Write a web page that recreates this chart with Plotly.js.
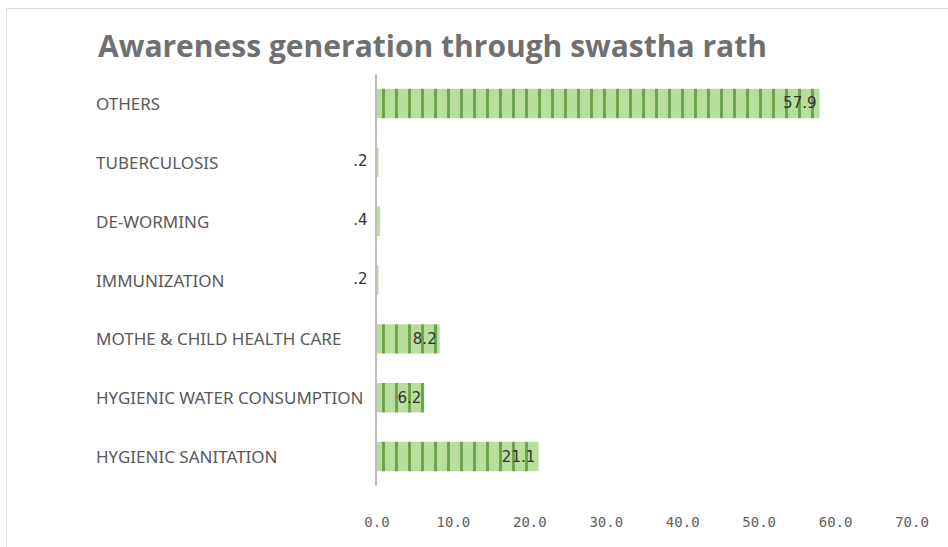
<!DOCTYPE html>
<html>
<head>
<meta charset="utf-8">
<script src="https://cdn.plot.ly/plotly-3.0.1.min.js"></script>
<style>
  html, body { margin: 0; padding: 0; background: #fff; }
  #wrap { position: relative; width: 948px; height: 547px; overflow: hidden; }
  #chart { width: 948px; height: 547px; }
  #frame { position: absolute; left: 6px; top: 8px; width: 960px; height: 560px; border: 1px solid #dcdcdc; pointer-events: none; }
</style>
</head>
<body>
<div id="wrap"><div id="chart"></div><div id="frame"></div></div>
<script>
// Data (top to bottom as in the chart)
const categories = [
  "OTHERS",
  "TUBERCULOSIS",
  "DE-WORMING",
  "IMMUNIZATION",
  "MOTHE & CHILD HEALTH CARE",
  "HYGIENIC WATER CONSUMPTION",
  "HYGIENIC SANITATION"
];
const values = [57.9, 0.2, 0.4, 0.2, 8.2, 6.2, 21.1];
const valueLabels = ["57.9", ".2", ".4", ".2", "8.2", "6.2", "21.1"];
const xTicks = [0, 10, 20, 30, 40, 50, 60, 70];
const xTickLabels = ["0.0", "10.0", "20.0", "30.0", "40.0", "50.0", "60.0", "70.0"];

const smallCut = 1;
const insideText = values.map((v, i) => v >= smallCut ? valueLabels[i] : "");
const outsideText = values.map((v, i) => v < smallCut ? valueLabels[i] + "\u00a0\u00a0" : "");

const barTrace = {
  type: "bar",
  orientation: "h",
  y: categories,
  x: values,
  width: 0.5,
  text: insideText,
  textposition: "inside",
  insidetextanchor: "end",
  textfont: { family: "DejaVu Sans, sans-serif", size: 15, color: "#333333" },
  marker: {
    color: "#a9d18e",
    line: { width: 0 },
    pattern: { shape: "|", fillmode: "replace", bgcolor: "#b8de9e", fgcolor: "#6aa248", size: 13, solidity: 0.22 }
  },
  hoverinfo: "x+y",
  cliponaxis: false
};

const smallLabelTrace = {
  type: "scatter",
  mode: "text",
  y: categories,
  x: values.map(() => 0),
  text: outsideText,
  textposition: "middle left",
  textfont: { family: "DejaVu Sans, sans-serif", size: 15, color: "#333333" },
  hoverinfo: "skip",
  cliponaxis: false,
  showlegend: false
};

const plotLeft = 377, plotRight = 912;
const plotWidth = plotRight - plotLeft;
const labelX = (94 - plotLeft) / plotWidth;

const annotations = categories.map(c => ({
  xref: "paper", yref: "y",
  x: labelX, y: c,
  xanchor: "left", yanchor: "middle",
  text: c,
  showarrow: false,
  font: { family: "Noto Sans, Liberation Sans, sans-serif", size: 17, color: "#595959" }
}));

const layout = {
  width: 948,
  height: 547,
  margin: { l: plotLeft, r: 948 - plotRight, t: 74, b: 61, pad: 0 },
  paper_bgcolor: "#ffffff",
  plot_bgcolor: "#ffffff",
  showlegend: false,
  title: {
    text: "<b>Awareness generation through swastha rath</b>",
    x: 98 / 948, xanchor: "left", xref: "container",
    y: 1 - 46 / 547, yanchor: "middle", yref: "container",
    font: { family: "Open Sans, sans-serif", size: 30, color: "#707070" }
  },
  xaxis: {
    range: [0, 70],
    tickvals: xTicks,
    ticktext: xTickLabels,
    showgrid: false,
    zeroline: false,
    showline: false,
    ticks: "",
    ticklabelstandoff: 26,
    tickfont: { family: "DejaVu Sans Mono, monospace", size: 14, color: "#606060" },
    fixedrange: true
  },
  yaxis: {
    type: "category",
    categoryorder: "array",
    categoryarray: categories.slice().reverse(),
    showticklabels: false,
    showgrid: false,
    zeroline: false,
    showline: true,
    linecolor: "#bdbdbd",
    linewidth: 2,
    ticks: "",
    fixedrange: true
  },
  annotations: annotations,
  bargap: 0.5
};

Plotly.newPlot("chart", [barTrace, smallLabelTrace], layout, { displayModeBar: false, staticPlot: true });
</script>
</body>
</html>
